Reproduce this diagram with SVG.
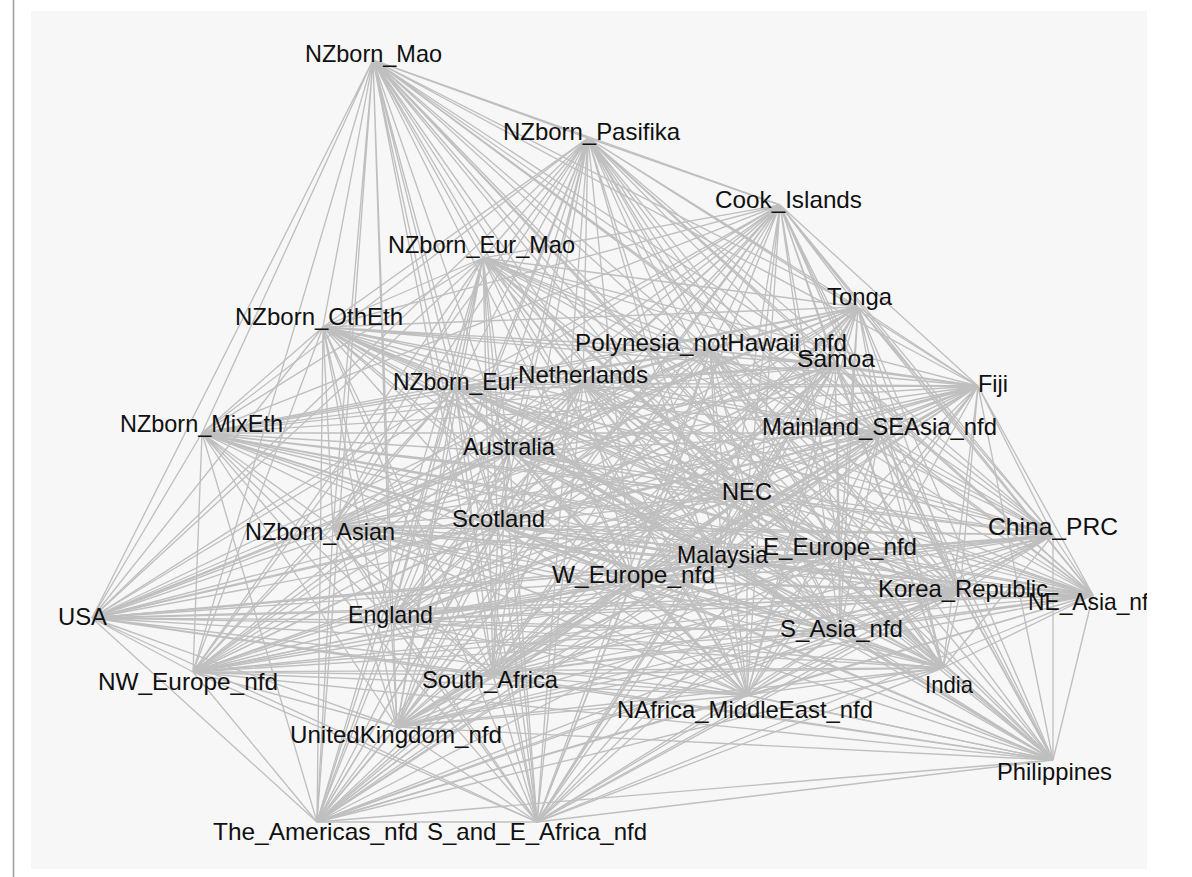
<svg xmlns="http://www.w3.org/2000/svg" width="1192" height="877" viewBox="0 0 1192 877">
<defs>
<clipPath id="panel"><rect x="31" y="11" width="1116" height="858"/></clipPath>
<style>
.e{fill:none;stroke:#bfbfbf;stroke-width:1.35}
.lbl{font-family:"Liberation Sans",Arial,sans-serif;font-size:24px;fill:#101010;text-anchor:middle}
.st{text-anchor:start}
</style>
</defs>
<rect x="0" y="0" width="1192" height="877" fill="#ffffff"/>
<line x1="13.5" y1="0" x2="13.5" y2="877" stroke="#9a9a9a" stroke-width="1.5"/>
<rect x="31" y="11" width="1116" height="858" fill="#f7f7f7"/>
<g clip-path="url(#panel)">
<g id="connectors">
<path class="e" d="M373,60L588,138M373,60L780,205M373,60L483,258M373,60L858,307M373,60L323,327M373,60L710,350M373,60L835,365M373,60L455,388M373,60L583,383M373,60L978,386M373,60L202,433M373,60L880,433M373,60L509,452M373,60L747,495M373,60L1053,535M373,60L498,525M373,60L333,527M373,60L722,560M373,60L840,553M373,60L633,580M373,60L960,593M373,60L1093,595M373,60L92,618M373,60L391,620M373,60L840,632M373,60L193,672M373,60L493,675M373,60L943,668M373,60L747,695M373,60L397,727M373,60L1053,760M373,60L317,822M373,60L537,822"/>
<path class="e" d="M588,138L780,205M588,138L483,258M588,138L858,307M588,138L323,327M588,138L710,350M588,138L835,365M588,138L455,388M588,138L583,383M588,138L978,386M588,138L202,433M588,138L880,433M588,138L509,452M588,138L747,495M588,138L1053,535M588,138L498,525M588,138L333,527M588,138L722,560M588,138L840,553M588,138L633,580M588,138L960,593M588,138L1093,595M588,138L92,618M588,138L391,620M588,138L840,632M588,138L193,672M588,138L493,675M588,138L943,668M588,138L747,695M588,138L397,727M588,138L1053,760M588,138L317,822M588,138L537,822"/>
<path class="e" d="M780,205L483,258M780,205L858,307M780,205L323,327M780,205L710,350M780,205L835,365M780,205L455,388M780,205L583,383M780,205L978,386M780,205L202,433M780,205L880,433M780,205L509,452M780,205L747,495M780,205L1053,535M780,205L498,525M780,205L333,527M780,205L722,560M780,205L840,553M780,205L633,580M780,205L960,593M780,205L1093,595M780,205L92,618M780,205L391,620M780,205L840,632M780,205L193,672M780,205L493,675M780,205L943,668M780,205L747,695M780,205L397,727M780,205L1053,760M780,205L317,822M780,205L537,822"/>
<path class="e" d="M483,258L858,307M483,258L323,327M483,258L710,350M483,258L835,365M483,258L455,388M483,258L583,383M483,258L978,386M483,258L202,433M483,258L880,433M483,258L509,452M483,258L747,495M483,258L1053,535M483,258L498,525M483,258L333,527M483,258L722,560M483,258L840,553M483,258L633,580M483,258L960,593M483,258L1093,595M483,258L92,618M483,258L391,620M483,258L840,632M483,258L193,672M483,258L493,675M483,258L943,668M483,258L747,695M483,258L397,727M483,258L1053,760M483,258L317,822M483,258L537,822"/>
<path class="e" d="M858,307L323,327M858,307L710,350M858,307L835,365M858,307L455,388M858,307L583,383M858,307L978,386M858,307L202,433M858,307L880,433M858,307L509,452M858,307L747,495M858,307L1053,535M858,307L498,525M858,307L333,527M858,307L722,560M858,307L840,553M858,307L633,580M858,307L960,593M858,307L1093,595M858,307L92,618M858,307L391,620M858,307L840,632M858,307L193,672M858,307L493,675M858,307L943,668M858,307L747,695M858,307L397,727M858,307L1053,760M858,307L317,822M858,307L537,822"/>
<path class="e" d="M323,327L710,350M323,327L835,365M323,327L455,388M323,327L583,383M323,327L978,386M323,327L202,433M323,327L880,433M323,327L509,452M323,327L747,495M323,327L1053,535M323,327L498,525M323,327L333,527M323,327L722,560M323,327L840,553M323,327L633,580M323,327L960,593M323,327L1093,595M323,327L92,618M323,327L391,620M323,327L840,632M323,327L193,672M323,327L493,675M323,327L943,668M323,327L747,695M323,327L397,727M323,327L1053,760M323,327L317,822M323,327L537,822"/>
<path class="e" d="M710,350L835,365M710,350L455,388M710,350L583,383M710,350L978,386M710,350L202,433M710,350L880,433M710,350L509,452M710,350L747,495M710,350L1053,535M710,350L498,525M710,350L333,527M710,350L722,560M710,350L840,553M710,350L633,580M710,350L960,593M710,350L1093,595M710,350L92,618M710,350L391,620M710,350L840,632M710,350L193,672M710,350L493,675M710,350L943,668M710,350L747,695M710,350L397,727M710,350L1053,760M710,350L317,822M710,350L537,822"/>
<path class="e" d="M835,365L455,388M835,365L583,383M835,365L978,386M835,365L202,433M835,365L880,433M835,365L509,452M835,365L747,495M835,365L1053,535M835,365L498,525M835,365L333,527M835,365L722,560M835,365L840,553M835,365L633,580M835,365L960,593M835,365L1093,595M835,365L92,618M835,365L391,620M835,365L840,632M835,365L193,672M835,365L493,675M835,365L943,668M835,365L747,695M835,365L397,727M835,365L1053,760M835,365L317,822M835,365L537,822"/>
<path class="e" d="M455,388L583,383M455,388L978,386M455,388L202,433M455,388L880,433M455,388L509,452M455,388L747,495M455,388L1053,535M455,388L498,525M455,388L333,527M455,388L722,560M455,388L840,553M455,388L633,580M455,388L960,593M455,388L1093,595M455,388L92,618M455,388L391,620M455,388L840,632M455,388L193,672M455,388L493,675M455,388L943,668M455,388L747,695M455,388L397,727M455,388L1053,760M455,388L317,822M455,388L537,822"/>
<path class="e" d="M583,383L978,386M583,383L202,433M583,383L880,433M583,383L509,452M583,383L747,495M583,383L1053,535M583,383L498,525M583,383L333,527M583,383L722,560M583,383L840,553M583,383L633,580M583,383L960,593M583,383L1093,595M583,383L92,618M583,383L391,620M583,383L840,632M583,383L193,672M583,383L493,675M583,383L943,668M583,383L747,695M583,383L397,727M583,383L1053,760M583,383L317,822M583,383L537,822"/>
<path class="e" d="M978,386L202,433M978,386L880,433M978,386L509,452M978,386L747,495M978,386L1053,535M978,386L498,525M978,386L333,527M978,386L722,560M978,386L840,553M978,386L633,580M978,386L960,593M978,386L1093,595M978,386L92,618M978,386L391,620M978,386L840,632M978,386L193,672M978,386L493,675M978,386L943,668M978,386L747,695M978,386L397,727M978,386L1053,760M978,386L317,822M978,386L537,822"/>
<path class="e" d="M202,433L880,433M202,433L509,452M202,433L747,495M202,433L1053,535M202,433L498,525M202,433L333,527M202,433L722,560M202,433L840,553M202,433L633,580M202,433L960,593M202,433L1093,595M202,433L92,618M202,433L391,620M202,433L840,632M202,433L193,672M202,433L493,675M202,433L943,668M202,433L747,695M202,433L397,727M202,433L1053,760M202,433L317,822M202,433L537,822"/>
<path class="e" d="M880,433L509,452M880,433L747,495M880,433L1053,535M880,433L498,525M880,433L333,527M880,433L722,560M880,433L840,553M880,433L633,580M880,433L960,593M880,433L1093,595M880,433L92,618M880,433L391,620M880,433L840,632M880,433L193,672M880,433L493,675M880,433L943,668M880,433L747,695M880,433L397,727M880,433L1053,760M880,433L317,822M880,433L537,822"/>
<path class="e" d="M509,452L747,495M509,452L1053,535M509,452L498,525M509,452L333,527M509,452L722,560M509,452L840,553M509,452L633,580M509,452L960,593M509,452L1093,595M509,452L92,618M509,452L391,620M509,452L840,632M509,452L193,672M509,452L493,675M509,452L943,668M509,452L747,695M509,452L397,727M509,452L1053,760M509,452L317,822M509,452L537,822"/>
<path class="e" d="M747,495L1053,535M747,495L498,525M747,495L333,527M747,495L722,560M747,495L840,553M747,495L633,580M747,495L960,593M747,495L1093,595M747,495L92,618M747,495L391,620M747,495L840,632M747,495L193,672M747,495L493,675M747,495L943,668M747,495L747,695M747,495L397,727M747,495L1053,760M747,495L317,822M747,495L537,822"/>
<path class="e" d="M1053,535L498,525M1053,535L333,527M1053,535L722,560M1053,535L840,553M1053,535L633,580M1053,535L960,593M1053,535L1093,595M1053,535L92,618M1053,535L391,620M1053,535L840,632M1053,535L193,672M1053,535L493,675M1053,535L943,668M1053,535L747,695M1053,535L397,727M1053,535L1053,760M1053,535L317,822M1053,535L537,822"/>
<path class="e" d="M498,525L333,527M498,525L722,560M498,525L840,553M498,525L633,580M498,525L960,593M498,525L1093,595M498,525L92,618M498,525L391,620M498,525L840,632M498,525L193,672M498,525L493,675M498,525L943,668M498,525L747,695M498,525L397,727M498,525L1053,760M498,525L317,822M498,525L537,822"/>
<path class="e" d="M333,527L722,560M333,527L840,553M333,527L633,580M333,527L960,593M333,527L1093,595M333,527L92,618M333,527L391,620M333,527L840,632M333,527L193,672M333,527L493,675M333,527L943,668M333,527L747,695M333,527L397,727M333,527L1053,760M333,527L317,822M333,527L537,822"/>
<path class="e" d="M722,560L840,553M722,560L633,580M722,560L960,593M722,560L1093,595M722,560L92,618M722,560L391,620M722,560L840,632M722,560L193,672M722,560L493,675M722,560L943,668M722,560L747,695M722,560L397,727M722,560L1053,760M722,560L317,822M722,560L537,822"/>
<path class="e" d="M840,553L633,580M840,553L960,593M840,553L1093,595M840,553L92,618M840,553L391,620M840,553L840,632M840,553L193,672M840,553L493,675M840,553L943,668M840,553L747,695M840,553L397,727M840,553L1053,760M840,553L317,822M840,553L537,822"/>
<path class="e" d="M633,580L960,593M633,580L1093,595M633,580L92,618M633,580L391,620M633,580L840,632M633,580L193,672M633,580L493,675M633,580L943,668M633,580L747,695M633,580L397,727M633,580L1053,760M633,580L317,822M633,580L537,822"/>
<path class="e" d="M960,593L1093,595M960,593L92,618M960,593L391,620M960,593L840,632M960,593L193,672M960,593L493,675M960,593L943,668M960,593L747,695M960,593L397,727M960,593L1053,760M960,593L317,822M960,593L537,822"/>
<path class="e" d="M1093,595L92,618M1093,595L391,620M1093,595L840,632M1093,595L193,672M1093,595L493,675M1093,595L943,668M1093,595L747,695M1093,595L397,727M1093,595L1053,760M1093,595L317,822M1093,595L537,822"/>
<path class="e" d="M92,618L391,620M92,618L840,632M92,618L193,672M92,618L493,675M92,618L943,668M92,618L747,695M92,618L397,727M92,618L1053,760M92,618L317,822M92,618L537,822"/>
<path class="e" d="M391,620L840,632M391,620L193,672M391,620L493,675M391,620L943,668M391,620L747,695M391,620L397,727M391,620L1053,760M391,620L317,822M391,620L537,822"/>
<path class="e" d="M840,632L193,672M840,632L493,675M840,632L943,668M840,632L747,695M840,632L397,727M840,632L1053,760M840,632L317,822M840,632L537,822"/>
<path class="e" d="M193,672L493,675M193,672L943,668M193,672L747,695M193,672L397,727M193,672L1053,760M193,672L317,822M193,672L537,822"/>
<path class="e" d="M493,675L943,668M493,675L747,695M493,675L397,727M493,675L1053,760M493,675L317,822M493,675L537,822"/>
<path class="e" d="M943,668L747,695M943,668L397,727M943,668L1053,760M943,668L317,822M943,668L537,822"/>
<path class="e" d="M747,695L397,727M747,695L1053,760M747,695L317,822M747,695L537,822"/>
<path class="e" d="M397,727L1053,760M397,727L317,822M397,727L537,822"/>
<path class="e" d="M1053,760L317,822M1053,760L537,822"/>
<path class="e" d="M317,822L537,822"/>
</g>
<g id="nodes">
<g id="n-NZborn_Mao"><text class="lbl" x="373.5" y="62" textLength="137" lengthAdjust="spacingAndGlyphs">NZborn_Mao</text></g>
<g id="n-NZborn_Pasifika"><text class="lbl" x="591.5" y="140" textLength="177" lengthAdjust="spacingAndGlyphs">NZborn_Pasifika</text></g>
<g id="n-Cook_Islands"><text class="lbl" x="788.5" y="208" textLength="147" lengthAdjust="spacingAndGlyphs">Cook_Islands</text></g>
<g id="n-NZborn_Eur_Mao"><text class="lbl" x="481.5" y="253" textLength="187" lengthAdjust="spacingAndGlyphs">NZborn_Eur_Mao</text></g>
<g id="n-Tonga"><text class="lbl" x="859.5" y="305" textLength="65" lengthAdjust="spacingAndGlyphs">Tonga</text></g>
<g id="n-NZborn_OthEth"><text class="lbl" x="319" y="325" textLength="168" lengthAdjust="spacingAndGlyphs">NZborn_OthEth</text></g>
<g id="n-Polynesia_notHawaii_nfd"><text class="lbl" x="711" y="351" textLength="272" lengthAdjust="spacingAndGlyphs">Polynesia_notHawaii_nfd</text></g>
<g id="n-Samoa"><text class="lbl" x="836" y="367" textLength="78" lengthAdjust="spacingAndGlyphs">Samoa</text></g>
<g id="n-NZborn_Eur"><text class="lbl" x="455.5" y="390" textLength="125" lengthAdjust="spacingAndGlyphs">NZborn_Eur</text></g>
<g id="n-Netherlands"><text class="lbl" x="583" y="383" textLength="130" lengthAdjust="spacingAndGlyphs">Netherlands</text></g>
<g id="n-Fiji"><text class="lbl" x="993" y="392" textLength="30" lengthAdjust="spacingAndGlyphs">Fiji</text></g>
<g id="n-NZborn_MixEth"><text class="lbl" x="201.5" y="432" textLength="163" lengthAdjust="spacingAndGlyphs">NZborn_MixEth</text></g>
<g id="n-Mainland_SEAsia_nfd"><text class="lbl" x="879.5" y="435" textLength="235" lengthAdjust="spacingAndGlyphs">Mainland_SEAsia_nfd</text></g>
<g id="n-Australia"><text class="lbl" x="509" y="455" textLength="92" lengthAdjust="spacingAndGlyphs">Australia</text></g>
<g id="n-NEC"><text class="lbl" x="747" y="500" textLength="50" lengthAdjust="spacingAndGlyphs">NEC</text></g>
<g id="n-China_PRC"><text class="lbl" x="1053" y="535" textLength="130" lengthAdjust="spacingAndGlyphs">China_PRC</text></g>
<g id="n-Scotland"><text class="lbl" x="498.5" y="527" textLength="93" lengthAdjust="spacingAndGlyphs">Scotland</text></g>
<g id="n-NZborn_Asian"><text class="lbl" x="320" y="540" textLength="150" lengthAdjust="spacingAndGlyphs">NZborn_Asian</text></g>
<g id="n-Malaysia"><text class="lbl" x="722.5" y="563" textLength="91" lengthAdjust="spacingAndGlyphs">Malaysia</text></g>
<g id="n-E_Europe_nfd"><text class="lbl" x="840" y="555" textLength="154" lengthAdjust="spacingAndGlyphs">E_Europe_nfd</text></g>
<g id="n-W_Europe_nfd"><text class="lbl" x="633.5" y="583" textLength="163" lengthAdjust="spacingAndGlyphs">W_Europe_nfd</text></g>
<g id="n-Korea_Republic"><text class="lbl" x="963" y="597" textLength="170" lengthAdjust="spacingAndGlyphs">Korea_Republic</text></g>
<g id="n-NE_Asia_nfd"><text class="lbl st" x="1028" y="610" textLength="133" lengthAdjust="spacingAndGlyphs">NE_Asia_nfd</text></g>
<g id="n-USA"><text class="lbl" x="82.5" y="625" textLength="49" lengthAdjust="spacingAndGlyphs">USA</text></g>
<g id="n-England"><text class="lbl" x="390.5" y="623" textLength="85" lengthAdjust="spacingAndGlyphs">England</text></g>
<g id="n-S_Asia_nfd"><text class="lbl" x="841.5" y="637" textLength="123" lengthAdjust="spacingAndGlyphs">S_Asia_nfd</text></g>
<g id="n-NW_Europe_nfd"><text class="lbl" x="188" y="690" textLength="180" lengthAdjust="spacingAndGlyphs">NW_Europe_nfd</text></g>
<g id="n-South_Africa"><text class="lbl" x="490" y="688" textLength="136" lengthAdjust="spacingAndGlyphs">South_Africa</text></g>
<g id="n-India"><text class="lbl" x="949" y="693" textLength="48" lengthAdjust="spacingAndGlyphs">India</text></g>
<g id="n-NAfrica_MiddleEast_nfd"><text class="lbl" x="745" y="718" textLength="256" lengthAdjust="spacingAndGlyphs">NAfrica_MiddleEast_nfd</text></g>
<g id="n-UnitedKingdom_nfd"><text class="lbl" x="396" y="743" textLength="212" lengthAdjust="spacingAndGlyphs">UnitedKingdom_nfd</text></g>
<g id="n-Philippines"><text class="lbl" x="1054.5" y="780" textLength="115" lengthAdjust="spacingAndGlyphs">Philippines</text></g>
<g id="n-The_Americas_nfd"><text class="lbl" x="315.5" y="840" textLength="205" lengthAdjust="spacingAndGlyphs">The_Americas_nfd</text></g>
<g id="n-S_and_E_Africa_nfd"><text class="lbl" x="537" y="840" textLength="220" lengthAdjust="spacingAndGlyphs">S_and_E_Africa_nfd</text></g>
</g>
</g>
</svg>
